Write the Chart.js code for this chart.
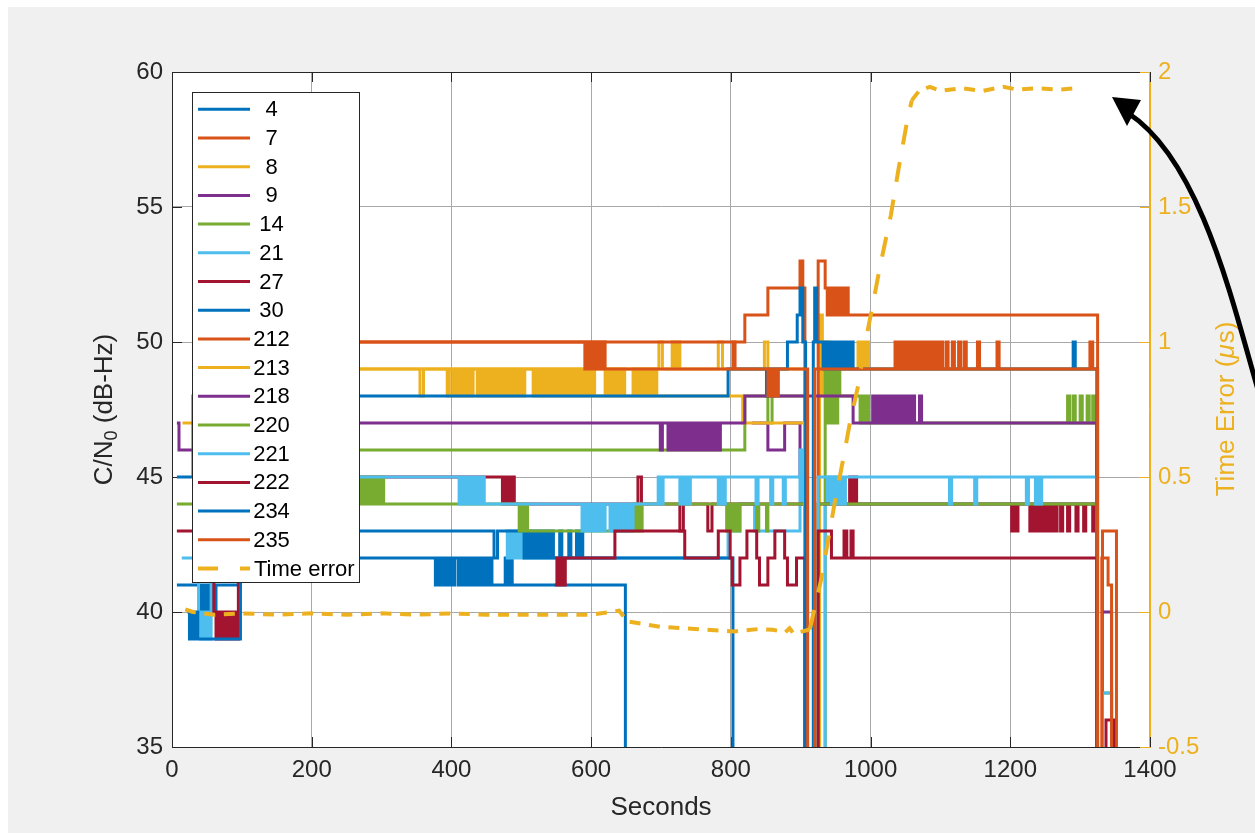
<!DOCTYPE html>
<html><head><meta charset="utf-8">
<script src="https://cdn.jsdelivr.net/npm/chart.js@4/dist/chart.umd.min.js"></script>
<style>html,body{margin:0;padding:0;background:#fff;overflow:hidden}canvas{display:block}</style>
</head><body>
<canvas id="c" width="1255" height="834"></canvas>
<script>
const seriesNames = ['4','7','8','9','14','21','27','30','212','213','218','220','221','222','234','235'];
const seriesColors = ['#0072BD','#D95319','#EDB120','#7E2F8E','#77AC30','#4DBEEE','#A2142F','#0072BD','#D95319','#EDB120','#7E2F8E','#77AC30','#4DBEEE','#A2142F','#0072BD','#D95319'];
const xTicks = [0,200,400,600,800,1000,1200,1400];
const yTicks = [35,40,45,50,55,60];
const y2Ticks = [-0.5,0,0.5,1,1.5,2];

// [seconds, C/N0] step points (34 = lost, below axis; null = gap)
const s4 = [[7,41],[42,40],[45,41],[48,40],[51,41],[54,40],[57,41],[60,40],[63,41],[98,42],[377,41],[380,42],[383,41],[386,42],[389,41],[392,42],[395,41],[398,42],[401,41],[405,42],[410,41],[413,42],[416,41],[419,42],[422,41],[425,42],[428,41],[431,42],[434,41],[437,42],[440,41],[443,42],[446,41],[449,42],[452,41],[455,42],[458,41],[477,42],[480,41],[484,42],[487,41],[649,34]];
const s7 = [[1327,34],[1332,43],[1352,34]];
const s8 = [[15,47],[40,49],[697,50],[702,49],[716,50],[720,49],[723,50],[727,49],[782,50],[788,49],[848,50],[853,49],[906,34],[927,51],[931,48],[935,50],[940,48],[946,49],[982,50],[985,49],[988,50],[991,49],[994,50],[997,49],[1324,34]];
const s9 = [[7,47],[10,46],[40,46],[41,null],[830,47],[853,46],[877,47],[899,45],[903,44],[906,34],[907,null],[1330,40],[1345,34]];
const s14 = [[30,46],[820,48],[853,47],[859,48],[906,34],[935,49],[938,47],[941,49],[944,47],[947,49],[950,47],[953,49],[956,48],[985,47],[988,48],[991,47],[994,48],[997,47],[1282,48],[1285,47],[1290,48],[1293,47],[1300,48],[1303,47],[1310,48],[1313,47],[1318,48],[1321,47],[1324,34],[1332,37],[1345,34]];
const s21 = [[14,42],[38,40],[41,39],[44,40],[47,39],[50,40],[53,39],[56,44],[57,null],[477,43],[480,42],[483,43],[486,42],[489,43],[492,42],[495,43],[498,42],[501,43],[504,42],[796,43],[813,44],[834,43],[899,46],[903,44],[906,34],[935,44],[938,45],[941,44],[944,45],[947,44],[950,45],[953,44],[1324,34],[1332,37],[1345,34]];
const s27 = [[7,43],[60,40],[63,39],[66,40],[69,39],[72,40],[75,39],[78,40],[81,39],[84,40],[87,39],[90,40],[93,39],[95,45],[473,44],[476,45],[479,44],[482,45],[485,44],[488,45],[490,44],[667,45],[672,44],[727,43],[732,44],[767,43],[773,44],[906,34],[925,44],[970,45],[973,44],[976,45],[980,44],[1202,43],[1205,44],[1208,43],[1211,44],[1228,43],[1231,44],[1234,43],[1237,44],[1240,43],[1243,44],[1246,43],[1249,44],[1252,43],[1255,44],[1258,43],[1261,44],[1264,43],[1267,44],[1272,43],[1275,44],[1282,43],[1285,44],[1294,43],[1297,44],[1305,43],[1308,44],[1318,43],[1321,44],[1324,34],[1337,36],[1348,34]];
const s30 = [[22,40],[25,39],[28,40],[31,39],[34,40],[37,39],[98,43],[461,42],[466,43],[504,42],[507,43],[510,42],[513,43],[516,42],[519,43],[522,42],[525,43],[528,42],[531,43],[534,42],[537,43],[540,42],[543,43],[546,42],[555,43],[558,42],[568,43],[571,42],[579,43],[582,42],[585,43],[588,42],[803,34]];
const s212 = [[30,50],[820,51],[853,52],[899,53],[903,52],[906,34],[925,53],[935,52],[938,51],[941,52],[944,51],[947,52],[950,51],[953,52],[956,51],[959,52],[962,51],[965,52],[968,51],[1325,34],[1331,42],[1340,41],[1345,34]];
const s213 = [[30,49],[355,48],[360,49],[394,48],[397,49],[403,48],[407,49],[411,48],[415,49],[419,48],[423,49],[427,48],[431,49],[437,48],[441,49],[445,48],[449,49],[453,48],[457,49],[461,48],[465,49],[469,48],[473,49],[477,48],[481,49],[485,48],[489,49],[493,48],[497,49],[501,48],[505,49],[517,48],[521,49],[525,48],[529,49],[533,48],[537,49],[541,48],[545,49],[549,48],[553,49],[557,48],[561,49],[565,48],[569,49],[573,48],[577,49],[581,48],[585,49],[589,48],[593,49],[597,48],[601,49],[605,48],[620,49],[624,48],[628,49],[632,48],[636,49],[640,48],[644,49],[648,48],[660,49],[664,48],[668,49],[672,48],[676,49],[680,48],[684,49],[688,48],[692,49],[694,48],[817,47],[906,34]];
const s218 = [[30,47],[699,46],[702,47],[710,46],[714,47],[718,46],[722,47],[726,46],[730,47],[734,46],[738,47],[742,46],[746,47],[750,46],[754,47],[758,46],[762,47],[766,46],[770,47],[774,46],[778,47],[782,46],[785,47],[820,48],[975,47],[1003,48],[1007,47],[1011,48],[1015,47],[1019,48],[1023,47],[1027,48],[1031,47],[1035,48],[1039,47],[1043,48],[1047,47],[1051,48],[1055,47],[1059,48],[1063,47],[1070,48],[1073,47],[1324,34]];
const s220 = [[7,44],[270,45],[273,44],[276,45],[279,44],[282,45],[285,44],[288,45],[291,44],[294,45],[297,44],[300,45],[303,44],[497,43],[500,44],[503,43],[506,44],[509,43],[661,44],[664,43],[667,44],[670,43],[673,44],[794,43],[798,44],[802,43],[806,44],[810,43],[813,44],[837,43],[840,44],[851,43],[853,44],[906,34],[925,44],[1324,34]];
const s221 = [[30,45],[411,44],[414,45],[417,44],[420,45],[423,44],[426,45],[429,44],[432,45],[435,44],[438,45],[441,44],[444,45],[447,44],[587,43],[590,44],[593,43],[596,44],[599,43],[602,44],[605,43],[608,44],[611,43],[614,44],[617,43],[620,44],[627,43],[630,44],[633,43],[636,44],[639,43],[642,44],[645,43],[648,44],[651,43],[654,44],[657,43],[660,44],[696,45],[700,44],[703,45],[727,44],[730,45],[733,44],[736,45],[739,44],[742,45],[782,44],[785,45],[789,44],[792,45],[836,44],[839,45],[857,44],[860,45],[875,44],[878,45],[906,34],[925,45],[944,44],[948,45],[952,44],[956,45],[960,44],[964,45],[1113,44],[1116,45],[1149,44],[1152,45],[1223,44],[1226,45],[1236,44],[1239,45],[1242,44],[1245,45],[1324,34]];
const s222 = [[548,41],[551,42],[554,41],[557,42],[560,41],[563,42],[634,43],[734,42],[782,43],[799,42],[802,41],[813,42],[823,43],[837,42],[841,41],[853,42],[863,43],[877,42],[881,41],[894,42],[906,34],[925,43],[944,42],[962,43],[966,42],[972,43],[975,42],[1324,34]];
const s234 = [[7,45],[30,48],[796,49],[851,48],[853,49],[881,50],[895,51],[899,52],[903,50],[907,34],[918,50],[920,52],[923,50],[932,49],[935,50],[938,49],[941,50],[944,49],[947,50],[950,49],[953,50],[956,49],[959,50],[962,49],[965,50],[968,49],[971,50],[975,49],[1290,50],[1293,49],[1324,34]];
const s235 = [[30,50],[591,49],[594,50],[597,49],[600,50],[603,49],[606,50],[609,49],[612,50],[615,49],[618,50],[620,49],[803,50],[806,49],[853,48],[856,49],[859,48],[862,49],[865,48],[868,49],[910,34],[920,49],[1035,50],[1039,49],[1043,50],[1047,49],[1051,50],[1055,49],[1059,50],[1063,49],[1067,50],[1071,49],[1075,50],[1079,49],[1083,50],[1087,49],[1091,50],[1095,49],[1099,50],[1103,49],[1108,50],[1111,49],[1117,50],[1120,49],[1126,50],[1129,49],[1134,50],[1137,49],[1153,50],[1156,49],[1181,50],[1184,49],[1314,50],[1318,49],[1325,34]];

// Time error (microseconds), right axis
const teT = [19,30,60,100,150,200,250,300,350,400,450,500,550,600,640,652,700,760,790,805,840,860,878,884,890,913,929,939,949,960,970,982,992,1003,1013,1029,1040,1052,1059,1070,1085,1100,1130,1160,1190,1210,1240,1270,1296];
const teV = [0.01,0.0,-0.01,-0.005,-0.01,-0.005,-0.01,-0.005,-0.01,-0.005,-0.01,-0.01,-0.01,-0.01,0.005,-0.035,-0.055,-0.065,-0.07,-0.072,-0.063,-0.066,-0.075,-0.06,-0.08,-0.065,0.117,0.262,0.41,0.555,0.695,0.836,0.992,1.136,1.273,1.469,1.64,1.814,1.895,1.932,1.945,1.93,1.94,1.93,1.945,1.935,1.94,1.935,1.94];

const allSeries = [s4,s7,s8,s9,s14,s21,s27,s30,s212,s213,s218,s220,s221,s222,s234,s235];
const TE_COLOR = '#EDB120';
const INK = '#262626';
const FONT = '"Liberation Sans", Arial, Helvetica, sans-serif';

const datasets = allSeries.map((s, i) => ({
  label: seriesNames[i],
  data: s.map(p => ({x: p[0], y: p[1]})),
  borderColor: seriesColors[i],
  borderWidth: 3,
  stepped: true,
  pointRadius: 0,
  fill: false,
  xAxisID: 'x', yAxisID: 'y',
  order: 100 - i
}));
datasets.push({
  label: 'Time error',
  data: teT.map((t, i) => ({x: t, y: teV[i]})),
  borderColor: TE_COLOR,
  borderWidth: 4,
  borderDash: [11, 8.6],
  pointRadius: 0,
  tension: 0,
  fill: false,
  xAxisID: 'x', yAxisID: 'y2',
  order: 0,
  segment: { borderDash: c => Math.abs(c.p1.parsed.y - c.p0.parsed.y) > 0.08 ? [20, 18] : [11, 8.6] }
});

const deco = {
  id: 'deco',
  beforeDraw(chart) {
    const ctx = chart.ctx, a = chart.chartArea;
    ctx.save();
    ctx.fillStyle = '#ffffff'; ctx.fillRect(0, 0, 1255, 834);
    ctx.fillStyle = '#f0f0f0'; ctx.fillRect(8, 7, 1247, 826);
    ctx.fillStyle = '#ffffff'; ctx.fillRect(a.left, a.top, a.right - a.left, a.bottom - a.top);
    ctx.restore();
  },
  beforeDatasetsDraw(chart) {
    const ctx = chart.ctx, a = chart.chartArea, sx = chart.scales.x, sy = chart.scales.y, s2 = chart.scales.y2;
    ctx.save();
    ctx.lineWidth = 1;
    ctx.strokeStyle = INK;
    ctx.beginPath();
    ctx.moveTo(a.left, a.top + 0.5); ctx.lineTo(a.right, a.top + 0.5);
    xTicks.forEach(v => {
      const p = Math.round(sx.getPixelForValue(v)) + 0.5;
      ctx.moveTo(p, a.bottom); ctx.lineTo(p, a.bottom - 10);
      ctx.moveTo(p, a.top); ctx.lineTo(p, a.top + 10);
    });
    yTicks.forEach(v => {
      const p = Math.round(sy.getPixelForValue(v)) + 0.5;
      ctx.moveTo(a.left, p); ctx.lineTo(a.left + 10, p);
    });
    ctx.stroke();
    ctx.strokeStyle = TE_COLOR;
    ctx.beginPath();
    ctx.moveTo(a.right - 0.5, a.top); ctx.lineTo(a.right - 0.5, a.bottom);
    y2Ticks.forEach(v => {
      const p = Math.round(s2.getPixelForValue(v)) + 0.5;
      ctx.moveTo(a.right, p); ctx.lineTo(a.right - 10, p);
    });
    ctx.stroke();
    ctx.restore();
  },
  afterDraw(chart) {
    const ctx = chart.ctx, a = chart.chartArea;
    ctx.save();
    ctx.fillStyle = INK;
    ctx.font = '26px ' + FONT;
    ctx.textAlign = 'center'; ctx.textBaseline = 'middle';
    ctx.fillText('Seconds', (a.left + a.right) / 2, 808);
    ctx.save();
    ctx.translate(105, (a.top + a.bottom) / 2);
    ctx.rotate(-Math.PI / 2);
    ctx.textAlign = 'left';
    const f1 = '26px ' + FONT, f2 = '18px ' + FONT;
    ctx.font = f1; const w1 = ctx.measureText('C/N').width; const w3 = ctx.measureText(' (dB-Hz)').width;
    ctx.font = f2; const w2 = ctx.measureText('0').width;
    let x0 = -(w1 + w2 + w3) / 2;
    ctx.font = f1; ctx.fillText('C/N', x0, 0);
    ctx.font = f2; ctx.fillText('0', x0 + w1, 7);
    ctx.font = f1; ctx.fillText(' (dB-Hz)', x0 + w1 + w2, 0);
    ctx.restore();
    ctx.save();
    ctx.translate(1227, (a.top + a.bottom) / 2);
    ctx.rotate(-Math.PI / 2);
    ctx.fillStyle = TE_COLOR;
    ctx.textAlign = 'left';
    const g1 = '26px ' + FONT, g2 = 'italic 26px ' + FONT;
    ctx.font = g1; const u1 = ctx.measureText('Time Error (').width; const u3 = ctx.measureText('s)').width;
    ctx.font = g2; const u2 = ctx.measureText('\u03bc').width;
    let z0 = -(u1 + u2 + u3) / 2;
    ctx.font = g1; ctx.fillText('Time Error (', z0, 0);
    ctx.font = g2; ctx.fillText('\u03bc', z0 + u1, 0);
    ctx.font = g1; ctx.fillText('s)', z0 + u1 + u2 + 1, 0);
    ctx.restore();
    const lx = 192, ly = 92, lw = 168, lh = 491;
    ctx.fillStyle = '#ffffff'; ctx.fillRect(lx, ly, lw, lh);
    ctx.strokeStyle = INK; ctx.lineWidth = 1;
    ctx.strokeRect(lx + 0.5, ly + 0.5, lw - 1, lh - 1);
    const names = seriesNames.concat(['Time error']);
    const cols = seriesColors.concat([TE_COLOR]);
    ctx.font = '22px ' + FONT; ctx.textBaseline = 'middle';
    names.forEach((n, i) => {
      const y = 109.3 + 28.7 * i;
      ctx.strokeStyle = cols[i];
      ctx.lineWidth = i === 16 ? 4 : 3;
      ctx.setLineDash(i === 16 ? [20, 22] : []);
      ctx.beginPath(); ctx.moveTo(198, y); ctx.lineTo(250, y); ctx.stroke();
      ctx.setLineDash([]);
      ctx.fillStyle = '#000000';
      if (i === 16) { ctx.textAlign = 'left'; ctx.fillText(n, 254, y + 1); }
      else { ctx.textAlign = 'center'; ctx.fillText(n, 271.5, y + 1); }
    });
    ctx.strokeStyle = '#000000'; ctx.lineWidth = 5; ctx.lineCap = 'butt';
    ctx.beginPath();
    ctx.moveTo(1258, 390);
    ctx.bezierCurveTo(1232, 300, 1200, 160, 1128, 113);
    ctx.stroke();
    ctx.fillStyle = '#000000';
    ctx.beginPath();
    ctx.moveTo(1112, 97); ctx.lineTo(1127, 126); ctx.lineTo(1141, 100); ctx.closePath();
    ctx.fill();
    ctx.restore();
  }
};

const axisFont = {family: FONT, size: 24};
const plainLabel = v => String(v);
new Chart(document.getElementById('c'), {
  type: 'line',
  data: {datasets},
  options: {
    responsive: false, animation: false, devicePixelRatio: 1, events: [],
    layout: {padding: {top: 72, left: 0, right: 0, bottom: 0}},
    plugins: {legend: {display: false}, tooltip: {enabled: false}},
    scales: {
      x: {
        type: 'linear', position: 'bottom', min: 0, max: 1400,
        afterBuildTicks: s => { s.ticks = xTicks.map(v => ({value: v})); },
        afterFit: s => { s.height = 87; },
        grid: {color: '#a8a8a8', lineWidth: 1, drawTicks: false},
        border: {color: INK, width: 1},
        ticks: {color: INK, font: axisFont, padding: 9, maxRotation: 0, autoSkip: false, callback: plainLabel}
      },
      y: {
        type: 'linear', position: 'left', min: 35, max: 60,
        afterBuildTicks: s => { s.ticks = yTicks.map(v => ({value: v})); },
        afterFit: s => { s.width = 172; },
        grid: {color: '#a8a8a8', lineWidth: 1, drawTicks: false},
        border: {color: INK, width: 1},
        ticks: {color: INK, font: axisFont, padding: 9, callback: plainLabel}
      },
      y2: {
        type: 'linear', position: 'right', min: -0.5, max: 2,
        afterBuildTicks: s => { s.ticks = y2Ticks.map(v => ({value: v})); },
        afterFit: s => { s.width = 105; },
        grid: {display: false, drawTicks: false},
        border: {color: TE_COLOR, width: 1},
        ticks: {color: TE_COLOR, font: axisFont, padding: 8, callback: plainLabel}
      }
    }
  },
  plugins: [deco]
});
</script>
</body></html>
